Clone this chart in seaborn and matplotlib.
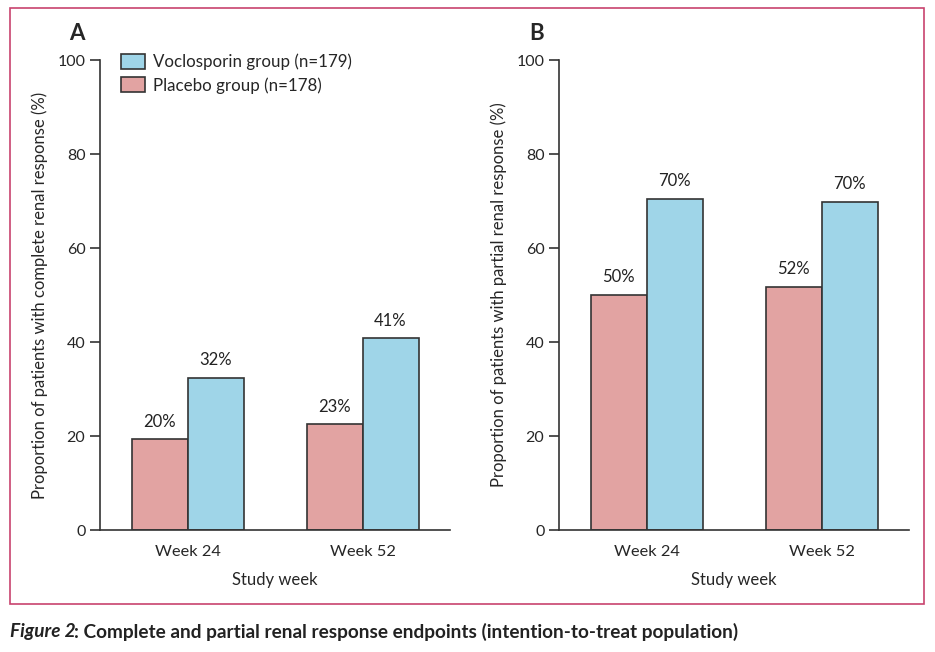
import numpy as np
import pandas as pd
import seaborn as sns
import matplotlib.pyplot as plt
from matplotlib.patches import Rectangle, Patch

weeks = ["Week 24", "Week 52"]
groups = ["Placebo group (n=178)", "Voclosporin group (n=179)"]
complete_placebo = [19.3, 22.5]
complete_voclo = [32.4, 40.8]
partial_placebo = [50.0, 51.7]
partial_voclo = [70.4, 69.8]
complete_labels = [["20%", "23%"], ["32%", "41%"]]
partial_labels = [["50%", "52%"], ["70%", "70%"]]

df_a = pd.DataFrame({"week": weeks * 2, "group": [groups[0]] * 2 + [groups[1]] * 2,
                     "value": complete_placebo + complete_voclo})
df_b = pd.DataFrame({"week": weeks * 2, "group": [groups[0]] * 2 + [groups[1]] * 2,
                     "value": partial_placebo + partial_voclo})

sns.set_style("white")
plt.rcParams['font.family'] = ['Lato', 'DejaVu Sans']
colors = {groups[0]: "#e2a3a2", groups[1]: "#9fd5e8"}
edge = "#333333"

fig = plt.figure(figsize=(9.35, 6.52), dpi=100)
ax_a = fig.add_axes([100 / 935, 122 / 652, 350 / 935, 470 / 652])
ax_b = fig.add_axes([559 / 935, 122 / 652, 350 / 935, 470 / 652])

def panel(ax, df, labels, ylabel, letter):
    sns.barplot(data=df, x="week", y="value", hue="group", hue_order=groups,
                palette=colors, width=0.64, edgecolor=edge, linewidth=1.2,
                ax=ax, legend=False, saturation=1)
    for cont, lab in zip(ax.containers, labels):
        ax.bar_label(cont, labels=lab, padding=7, fontsize=12, color="#222222")
    ax.set_xlim(-0.5, 1.5)
    ax.set_ylim(0, 100)
    ax.set_yticks([0, 20, 40, 60, 80, 100])
    ax.set_xticks([-0.5, 0.5, 1.5], minor=True)
    ax.tick_params(axis="x", which="major", length=0, pad=11, labelsize=11.8)
    ax.tick_params(axis="x", which="minor", length=8, width=1.2, direction="out", color=edge)
    ax.tick_params(axis="y", length=7, width=1.2, direction="out", color=edge,
                   labelsize=11.5, left=True)
    for s in ["top", "right"]:
        ax.spines[s].set_visible(False)
    for s in ["left", "bottom"]:
        ax.spines[s].set_color(edge)
        ax.spines[s].set_linewidth(1.2)
    ax.set_xlabel("Study week", fontsize=12, labelpad=9)
    ax.set_ylabel(ylabel, fontsize=12, labelpad=7)
    ax.text(-0.065, 1.035, letter, transform=ax.transAxes, fontsize=16,
            fontweight="bold", ha="center", va="bottom")

panel(ax_a, df_a, complete_labels,
      "Proportion of patients with complete renal response (%)", "A")
panel(ax_b, df_b, partial_labels,
      "Proportion of patients with partial renal response (%)", "B")

handles = [Patch(facecolor=colors[groups[1]], edgecolor=edge, linewidth=1.2),
           Patch(facecolor=colors[groups[0]], edgecolor=edge, linewidth=1.2)]
ax_a.legend(handles, [groups[1], groups[0]], loc="upper left",
            bbox_to_anchor=(0.03, 1.035), frameon=False, fontsize=12.2,
            handlelength=1.45, handleheight=1.0, handletextpad=0.45, labelspacing=0.4,
            borderaxespad=0.2)

fig.patches.append(Rectangle((10 / 935, 48 / 652), 914 / 935, 596 / 652,
                             transform=fig.transFigure, fill=False,
                             edgecolor="#c8436e", linewidth=1.2))

t1 = fig.text(10 / 935, 20 / 652, "Figure 2", fontsize=13.7, fontweight="bold",
              style="italic", va="center", color="#222222")
fig.canvas.draw()
bb = t1.get_window_extent()
fig.text((bb.x1 - 2) / 935, 20 / 652,
         ": Complete and partial renal response endpoints (intention-to-treat population)",
         fontsize=13.7, fontweight="bold", va="center", color="#222222")

fig.savefig("out.png", dpi=100)
